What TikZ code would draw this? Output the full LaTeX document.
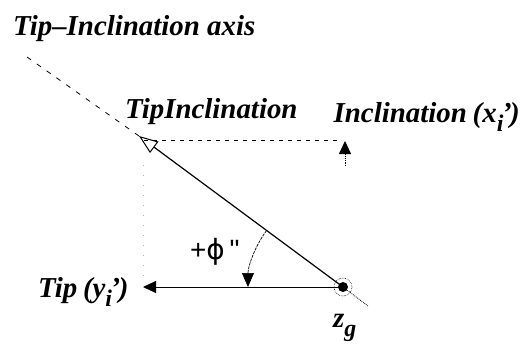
\documentclass[tikz,border=0pt]{standalone}
\usepackage{fontspec}
\setmainfont{Liberation Serif}
\newfontfamily\lsans{Liberation Sans}
\newfontfamily\dvsans{DejaVu Sans}
\usetikzlibrary{arrows.meta}
\newcommand\lowsub[1]{\raisebox{-0.33em}{\fontsize{24}{24}\selectfont #1}}
\begin{document}
\begin{tikzpicture}[x=1bp,y=-1bp,
  lbl/.style={font=\fontsize{29}{32}\selectfont\bfseries\itshape, inner sep=0pt, anchor=base west},
  philbl/.style={font=\fontsize{28}{30}\selectfont\lsans, inner sep=0pt, anchor=base west},
  fillhead/.style={-{Triangle[length=13bp,width=12bp]}},
  openhead/.style={-{Triangle[open,length=19bp,width=14bp,line width=1bp]}}]
\useasboundingbox (0,0) rectangle (523,345);
% points
\coordinate (O) at (343,287);
\coordinate (TI) at (139,136);
\coordinate (axA) at (27,57);
\coordinate (axB) at (368,306);
\coordinate (Tp) at (143,287);
\coordinate (Hstart) at (144,140);
\coordinate (Hend) at (338,140);
\coordinate (Vtop) at (345,141);
\coordinate (Vbot) at (345,166);
\coordinate (Dtop) at (143,165);
\coordinate (Dbot) at (143,283);
\coordinate (Astart) at (266.6,230.5);
% axis
\draw[line width=0.8bp, dash pattern=on 5bp off 7bp] (axA) -- (TI);
\draw[line width=0.8bp, densely dotted] (O) -- (axB);
\draw[line width=1.2bp, openhead] (O) -- (TI);
% inclination projection
\draw[line width=0.8bp, dash pattern=on 4bp off 5bp] (Hstart) -- (Hend);
\draw[line width=0.8bp, densely dotted, fillhead] (Vbot) -- (Vtop);
\draw[gray!60, line width=0.8bp, dash pattern=on 1bp off 9bp] (Dtop) -- (Dbot);
% tip
\draw[line width=1bp, fillhead] (O) -- (Tp);
% origin
\fill (O) circle[radius=5bp];
\draw[line width=0.6bp, densely dotted] (O) circle[radius=9bp];
% angle
\draw[line width=0.7bp, dash pattern=on 3bp off 1bp, -{Triangle[length=14bp,width=12bp]}]
  (Astart) arc[start angle=-143.5, end angle=-180, radius=95];
% labels
\node[lbl] (title) at (13,35) {Tip–Inclination axis};
\node[lbl] (tilbl) at (125,118) {TipInclination};
\node[lbl, anchor=base east] (inclbl) at (520,122) {Inclination\hspace{0.2em}(x\lowsub{i}\kern-0.05em’\kern-0.05em)};
\node[lbl] (tiplbl) at (38,297) {Tip\hspace{0.2em}(y\lowsub{i}\kern-0.05em’\kern-0.05em)};
\node[lbl] (zlbl) at (333,327) {z\lowsub{g}};
\node[philbl] (phi) at (190,259) {+{\dvsans ϕ}\,"};
\end{tikzpicture}
\end{document}
